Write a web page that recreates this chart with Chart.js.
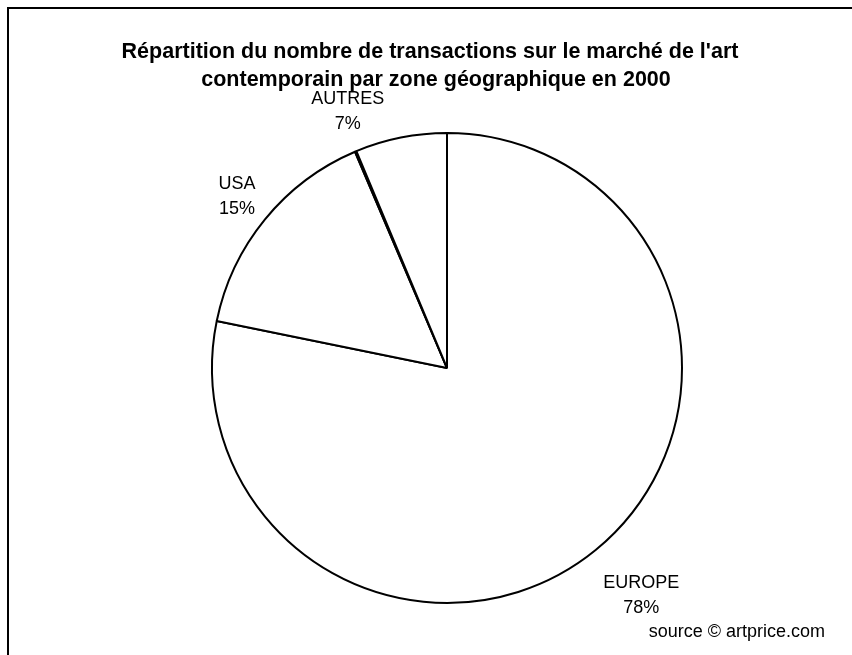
<!DOCTYPE html>
<html>
<head>
<meta charset="utf-8">
<script src="https://cdn.jsdelivr.net/npm/chart.js@4.4.1/dist/chart.umd.min.js"></script>
<style>
    html, body { margin: 0; padding: 0; background: #fff; }
    #wrap { width: 852px; height: 655px; }
</style>
</head>
<body>
<div id="wrap"><canvas id="pieChart" width="852" height="655"></canvas></div>
<script>
// Données du graphique
const categories = ["EUROPE", "USA", "", "AUTRES"];
const values = [78.2, 15.4, 0.1, 6.3];
const percentLabels = ["78%", "15%", "", "7%"];
const titleLines = [
    "Répartition du nombre de transactions sur le marché de l'art",
    "contemporain par zone géographique en 2000"
];
const sourceText = "source © artprice.com";

// Décalage des étiquettes (distance au bord, angle en degrés)
const labelNudge = [
    { dr: 64, da: -1.3 },
    { dr: 36, da: 0 },
    null,
    { dr: 40, da: -9.8 }
];

const FONT = "'Liberation Sans', Arial, sans-serif";

// Cadre, titre, étiquettes et source
const decorPlugin = {
    id: "decor",
    beforeDraw(chart) {
        const ctx = chart.ctx;
        ctx.save();
        ctx.fillStyle = "#fff";
        ctx.fillRect(0, 0, chart.width, chart.height);
        ctx.strokeStyle = "#000";
        ctx.lineWidth = 2;
        ctx.beginPath();
        ctx.moveTo(8, chart.height + 2);
        ctx.lineTo(8, 8);
        ctx.lineTo(chart.width + 2, 8);
        ctx.stroke();
        ctx.restore();
    },
    afterDatasetsDraw(chart) {
        const ctx = chart.ctx;
        ctx.save();
        ctx.fillStyle = "#000";
        ctx.textAlign = "center";
        ctx.textBaseline = "middle";

        // Titre
        ctx.font = "bold 21.5px " + FONT;
        ctx.fillText(titleLines[0], 430, 52);
        ctx.fillText(titleLines[1], 436, 80);

        // Étiquettes des secteurs
        ctx.font = "18px " + FONT;
        const arcs = chart.getDatasetMeta(0).data;
        arcs.forEach((arc, i) => {
            const nudge = labelNudge[i];
            if (!nudge || !categories[i]) return;
            const mid = (arc.startAngle + arc.endAngle) / 2 + nudge.da * Math.PI / 180;
            const dist = arc.outerRadius + nudge.dr;
            const x = arc.x + Math.cos(mid) * dist;
            const y = arc.y + Math.sin(mid) * dist;
            ctx.fillText(categories[i], x, y - 12.5);
            ctx.fillText(percentLabels[i], x, y + 12.5);
        });

        // Source
        ctx.textAlign = "right";
        ctx.fillText(sourceText, 825, 632);
        ctx.restore();
    }
};

new Chart(document.getElementById("pieChart"), {
    type: "pie",
    data: {
        labels: categories,
        datasets: [{
            data: values,
            backgroundColor: "#ffffff",
            borderColor: "#000000",
            borderWidth: 2,
            borderAlign: "center",
        }]
    },
    options: {
        responsive: false,
        animation: false,
        layout: { padding: { left: 211, right: 169, top: 132, bottom: 51 } },
        plugins: {
            legend: { display: false },
            title: { display: false },
            tooltip: { enabled: false },
        },
    },
    plugins: [decorPlugin]
});
</script>
</body>
</html>
